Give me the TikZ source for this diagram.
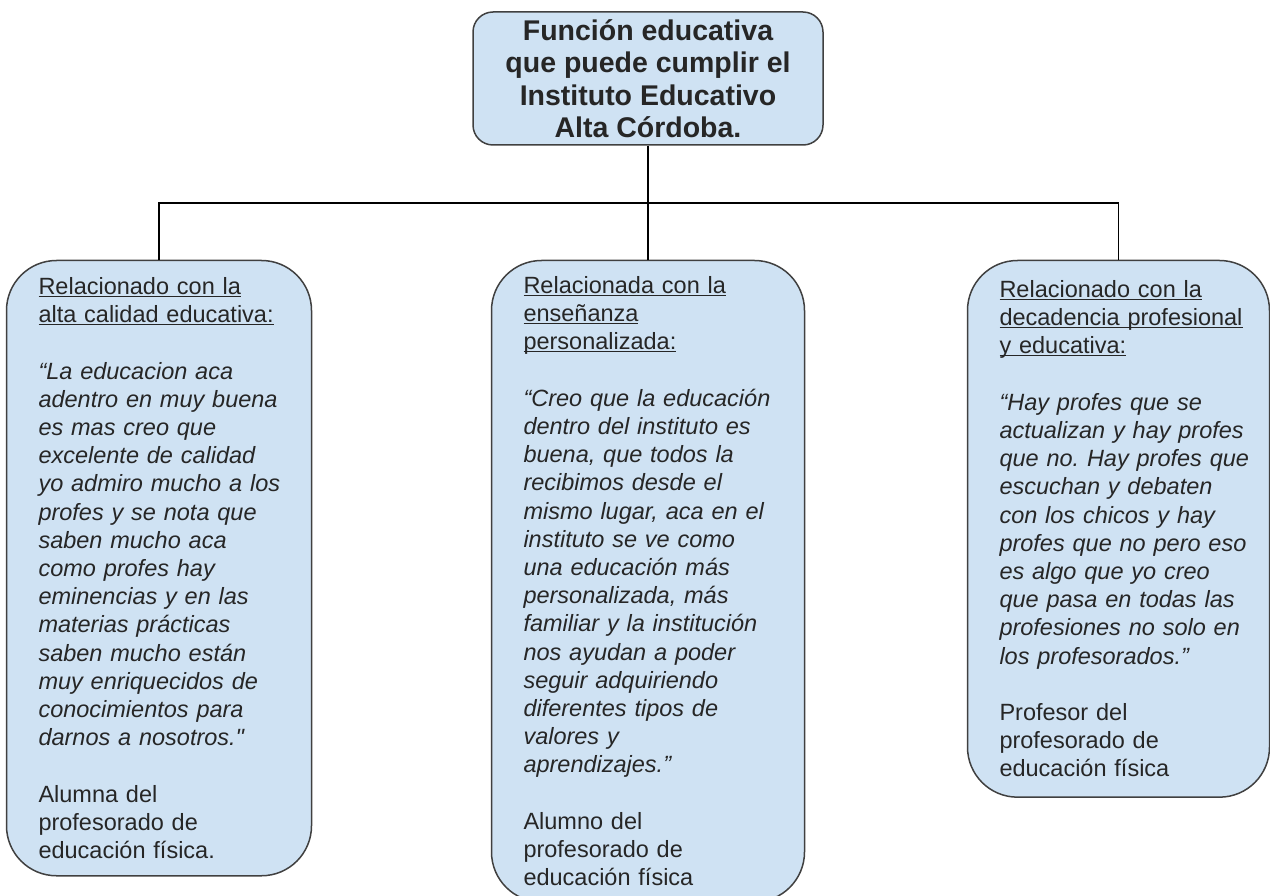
\documentclass[tikz,border=0pt]{standalone}
\usepackage{fontspec}
\setmainfont{Liberation Sans}
\usetikzlibrary{positioning}
\definecolor{boxblue}{HTML}{CFE2F3}
\definecolor{boxline}{HTML}{404040}
\definecolor{inktext}{HTML}{262626}
\newcommand{\hdr}[1]{\underline{\raisebox{0pt}[\height][0pt]{#1}}}
\newcommand{\loose}{\rightskip=-20pt plus 1fil\relax}
\frenchspacing

\begin{document}
\begin{tikzpicture}[x=1pt,y=-1pt,line width=1.5pt]
  \tikzstyle{every node}=[text=inktext]
  \tikzstyle{root}=[draw=boxline,fill=boxblue,rounded corners=20pt,align=center,minimum width=350pt,minimum height=133pt,inner sep=0pt,font=\bfseries\fontsize{28.5}{32.5}\selectfont]
  \tikzstyle{leaf}=[draw=boxline,fill=boxblue,rounded corners=50pt,align=left,inner xsep=32pt,inner ysep=17pt,font=\fontsize{23.5}{28.2}\selectfont]

  \useasboundingbox (0,0) rectangle (1270,896);

  \node[root] (F) at (648,78.5) {Función educativa\\que puede cumplir el\\Instituto Educativo\\Alta Córdoba.};
  \node[leaf,text width=241pt] (Alta) [below left=114pt and 160pt of F] {\loose\hdr{Relacionado con la}\\\hdr{alta calidad educativa:}\\[28.2pt]
    \itshape “La educacion aca\\adentro en muy buena\\es mas creo que\\excelente de calidad\\yo admiro mucho a los\\profes y se nota que\\saben mucho aca\\como profes hay\\eminencias y en las\\materias prácticas\\saben mucho están\\muy enriquecidos de\\conocimientos para\\darnos a nosotros.\textquotedbl\\[28.2pt]
    \upshape Alumna del\\profesorado de\\educación física.};
  \node[leaf,text width=249pt,inner ysep=16pt] (Pers) [below=114pt of F] {\loose\hdr{Relacionada con la}\\\hdr{enseñanza}\\\hdr{personalizada:}\\[28.2pt]
    \itshape “Creo que la educación\\dentro del instituto es\\buena, que todos la\\recibimos desde el\\mismo lugar, aca en el\\instituto se ve como\\una educación más\\personalizada, más\\familiar y la institución\\nos ayudan a poder\\seguir adquiriendo\\diferentes tipos de\\valores y\\aprendizajes.”\\[28.2pt]
    \upshape Alumno del\\profesorado de\\educación física};
  \node[leaf,text width=238pt,inner ysep=20pt] (Deca) [below right=114pt and 143pt of F] {\loose\hdr{Relacionado con la}\\\hdr{decadencia profesional}\\\hdr{y educativa:}\\[28.2pt]
    \itshape “Hay profes que se\\actualizan y hay profes\\que no. Hay profes que\\escuchan y debaten\\con los chicos y hay\\profes que no pero eso\\es algo que yo creo\\que pasa en todas las\\profesiones no solo en\\los profesorados.”\\[28.2pt]
    \upshape Profesor del\\profesorado de\\educación física};

  \coordinate (bus) at (648,203);
  \draw (F) -- (Pers);
  \draw (Alta.north) |- (bus) -| (Deca.north);
\end{tikzpicture}
\end{document}
